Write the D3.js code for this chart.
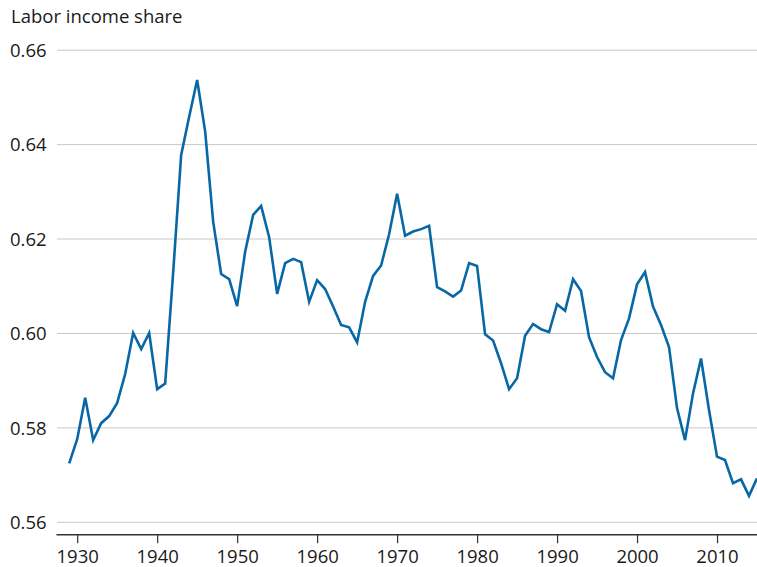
<!DOCTYPE html>
<html>
<head>
<meta charset="utf-8">
<script src="https://cdn.jsdelivr.net/npm/d3@7"></script>
<style>
  body { margin: 0; background: #fff; }
  text { font-family: "Open Sans", sans-serif; fill: #1a1a1a; }
</style>
</head>
<body>
<div id="chart"></div>
<script>
// data
var years = d3.range(1929, 2016);
var share = [
  0.5725, 0.5776, 0.5864, 0.5774, 0.5810, 0.5825, 0.5853, 0.5914, 0.6001, 0.5967,
  0.6001, 0.5882, 0.5894, 0.6129, 0.6378, 0.6459, 0.6537, 0.6428, 0.6237, 0.6126,
  0.6115, 0.6058, 0.6173, 0.6251, 0.6270, 0.6204, 0.6084, 0.6149, 0.6158, 0.6151,
  0.6067, 0.6113, 0.6094, 0.6057, 0.6018, 0.6013, 0.5981, 0.6067, 0.6122, 0.6144,
  0.6210, 0.6296, 0.6207, 0.6216, 0.6221, 0.6228, 0.6098, 0.6089, 0.6078, 0.6091,
  0.6149, 0.6143, 0.5998, 0.5985, 0.5937, 0.5882, 0.5905, 0.5995, 0.6020, 0.6009,
  0.6003, 0.6062, 0.6048, 0.6115, 0.6090, 0.5992, 0.5950, 0.5918, 0.5905, 0.5986,
  0.6032, 0.6104, 0.6130, 0.6057, 0.6018, 0.5971, 0.5842, 0.5774, 0.5873, 0.5947,
  0.5838, 0.5739, 0.5732, 0.5683, 0.5691, 0.5656, 0.5693
];
var yTicks = [0.56, 0.58, 0.60, 0.62, 0.64, 0.66];
var xTicks = [1930, 1940, 1950, 1960, 1970, 1980, 1990, 2000, 2010];

var data = years.map(function(y, i) { return {year: y, value: share[i]}; });

var W = 757, H = 567;
var fontSize = "18.5px";
var svg = d3.select("#chart").append("svg")
    .attr("width", W)
    .attr("height", H);

var x = d3.scaleLinear()
    .domain([1927.35, 2015])
    .range([56, 757]);

var y = d3.scaleLinear()
    .domain([0.56, 0.66])
    .range([522.3, 50.2]);

var axisY = 534.3;

// title
svg.append("text")
    .attr("x", 11)
    .attr("y", 23)
    .style("font-size", fontSize)
    .text("Labor income share");

// gridlines
svg.append("g")
    .selectAll("line")
    .data(yTicks)
    .enter().append("line")
    .attr("x1", 57)
    .attr("x2", W)
    .attr("y1", function(d) { return y(d); })
    .attr("y2", function(d) { return y(d); })
    .attr("stroke", "#c8c8c8")
    .attr("stroke-width", 1);

// y labels
svg.append("g")
    .selectAll("text")
    .data(yTicks)
    .enter().append("text")
    .attr("x", 10)
    .attr("y", function(d) { return y(d); })
    .attr("dy", "0.36em")
    .style("font-size", fontSize)
    .text(function(d) { return d3.format(".2f")(d); });

// x axis
var xAxis = svg.append("g")
    .attr("transform", "translate(0," + axisY + ")")
    .call(d3.axisBottom(x).tickValues(xTicks).tickFormat(d3.format("d")).tickSize(9).tickSizeOuter(0));
xAxis.select(".domain").attr("stroke", "#333").attr("stroke-width", 1.4);
xAxis.selectAll(".tick line").attr("stroke", "#333").attr("stroke-width", 1.2);
xAxis.selectAll(".tick text")
    .attr("y", 16)
    .style("font-size", fontSize)
    .style("font-family", "'Open Sans', sans-serif")
    .attr("fill", "#1a1a1a");

// the series
svg.append("path")
    .datum(data)
    .attr("fill", "none")
    .attr("stroke", "#0868a6")
    .attr("stroke-width", 2.6)
    .attr("stroke-linejoin", "miter")
    .attr("d", d3.line()
        .x(function(d) { return x(d.year); })
        .y(function(d) { return y(d.value); }));
</script>
</body>
</html>
